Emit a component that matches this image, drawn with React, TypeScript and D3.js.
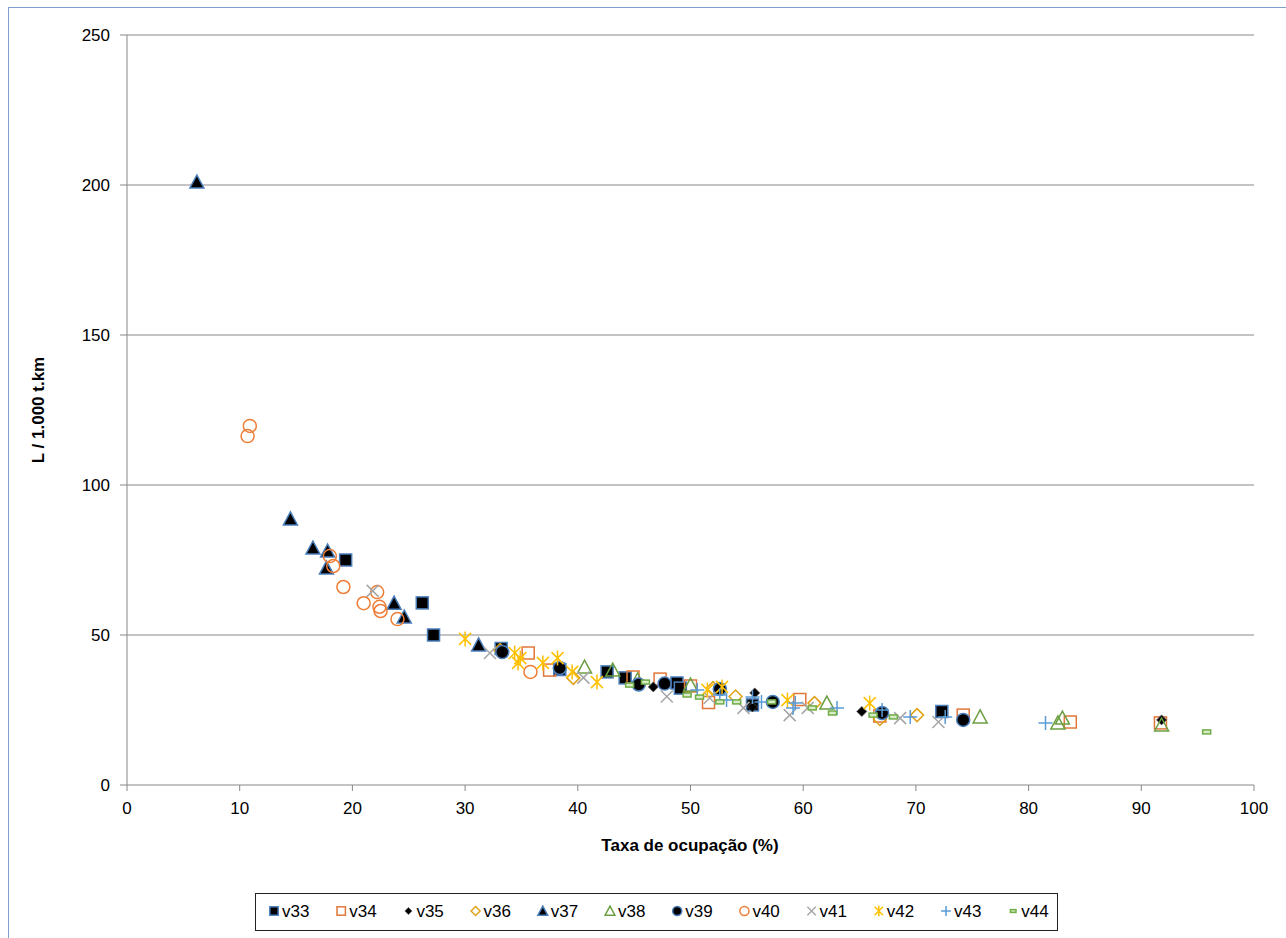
import * as d3 from "d3";

const xTicks = [0, 10, 20, 30, 40, 50, 60, 70, 80, 90, 100];
const yTicks = [0, 50, 100, 150, 200, 250];

const v33 = [[19.4, 75], [26.2, 60.7], [27.2, 50], [33.2, 45.5], [38.4, 38.5], [42.6, 37.7], [44.2, 35.7], [48.8, 34], [49.1, 32.3], [55.5, 26.7], [72.3, 24.5]];
const v34 = [[35.6, 44], [37.5, 38.3], [44.9, 36], [47.3, 35.3], [50, 33], [51.6, 27.5], [59.7, 28.5], [66.8, 23], [74.2, 23.3], [83.7, 21], [91.7, 20.7]];
const v35 = [[33.1, 45], [46.7, 32.7], [55.5, 26], [55.7, 30.7], [57.2, 27.7], [65.2, 24.5], [91.8, 21.7]];
const v36 = [[33.1, 45], [39.6, 35.7], [52, 32.3], [54, 29.5], [61, 27.3], [66.8, 22], [70.1, 23.3]];
const v37 = [[6.2, 201], [14.5, 88.7], [16.5, 79], [17.8, 78], [17.7, 72.3], [23.7, 60.6], [24.6, 56], [31.2, 46.7]];
const v38 = [[40.6, 39.3], [43.1, 38.3], [45.3, 35], [50, 33.3], [62.1, 27.3], [75.7, 22.7], [82.6, 20.7], [83, 22.3], [91.8, 20]];
const v39 = [[33.3, 44.3], [38.4, 39], [45.4, 33.5], [47.7, 33.8], [52.6, 32], [57.3, 27.7], [67, 24], [74.2, 21.7]];
const v40 = [[10.7, 116.3], [10.9, 119.7], [18, 76.3], [18.3, 73], [19.2, 66], [21, 60.6], [22.2, 64.3], [22.4, 59.4], [22.5, 58], [24, 55.3], [35.8, 37.7]];
const v41 = [[21.8, 64.7], [32.2, 44], [40.5, 35.8], [47.9, 29.5], [51.7, 29], [54.7, 25.7], [58.8, 23.3], [60.4, 25.7], [68.6, 22.3], [72, 21]];
const v42 = [[30, 48.7], [34.4, 44], [34.9, 42.3], [34.7, 40.7], [36.9, 40.7], [38.2, 42.3], [39.5, 37.7], [41.7, 34.3], [51.5, 31.7], [52.8, 32.7], [58.6, 28.3], [65.9, 27.3]];
const v43 = [[50.6, 31.7], [52.6, 30], [53.2, 28.3], [55.5, 29.3], [56.3, 27.7], [59.1, 25.7], [59.3, 27.3], [63, 25.7], [67, 25], [69.5, 22.7], [72.6, 22.7], [81.5, 20.7]];
const v44 = [[44.6, 33.3], [46, 34.3], [49.7, 30], [50.8, 29.3], [52.6, 27.7], [54.1, 27.7], [57.2, 27.7], [60.8, 25.7], [62.6, 24], [66.2, 23.3], [68, 22.7], [95.8, 17.7]];

const seriesNames = ["v33", "v34", "v35", "v36", "v37", "v38", "v39", "v40", "v41", "v42", "v43", "v44"];
const seriesData = [v33, v34, v35, v36, v37, v38, v39, v40, v41, v42, v43, v44];

const BLUE_EDGE = "#4a7ebb";
const styles: Record<string, { shape: string; fill: string; stroke: string }> = {
  v33: { shape: "square", fill: "#000", stroke: BLUE_EDGE },
  v34: { shape: "square", fill: "none", stroke: "#e2773a" },
  v35: { shape: "diamond", fill: "#000", stroke: "#555" },
  v36: { shape: "diamond", fill: "none", stroke: "#dfa21a" },
  v37: { shape: "triangle", fill: "#000", stroke: BLUE_EDGE },
  v38: { shape: "triangle", fill: "none", stroke: "#6c9f42" },
  v39: { shape: "circle", fill: "#000", stroke: BLUE_EDGE },
  v40: { shape: "circle", fill: "none", stroke: "#ee7d36" },
  v41: { shape: "x", fill: "none", stroke: "#a6a6a6" },
  v42: { shape: "star", fill: "none", stroke: "#ffc000" },
  v43: { shape: "plus", fill: "none", stroke: "#5b9bd5" },
  v44: { shape: "dash", fill: "#d8ecc8", stroke: "#70ad47" },
};

function Marker({ name, cx, cy, k = 1 }: { name: string; cx: number; cy: number; k?: number }) {
  const s = styles[name];
  const t = `translate(${cx},${cy}) scale(${k})`;
  const sw = 1.5 / k;
  switch (s.shape) {
    case "square":
      return <rect transform={t} x={-6} y={-6} width={12} height={12} fill={s.fill} stroke={s.stroke} strokeWidth={sw} />;
    case "diamond": {
      const r = name === "v35" ? 5 : 6.5;
      return <path transform={t} d={`M0,${-r}L${r},0L0,${r}L${-r},0Z`} fill={s.fill} stroke={s.stroke} strokeWidth={name === "v35" ? 0.8 / k : sw} />;
    }
    case "triangle":
      return <path transform={t} d="M0,-7L7,6L-7,6Z" fill={s.fill} stroke={s.stroke} strokeWidth={sw} />;
    case "circle":
      return <circle transform={t} r={6.5} fill={s.fill} stroke={s.stroke} strokeWidth={sw} />;
    case "x":
      return <path transform={t} d="M-6,-6L6,6M6,-6L-6,6" stroke={s.stroke} strokeWidth={sw} fill="none" />;
    case "star":
      return <path transform={t} d="M-6,-6L6,6M6,-6L-6,6M0,-7.5L0,7.5" stroke={s.stroke} strokeWidth={sw} fill="none" />;
    case "plus":
      return <path transform={t} d="M-7,0L7,0M0,-7L0,7" stroke={s.stroke} strokeWidth={sw} fill="none" />;
    default:
      return <rect transform={t} x={-4} y={-2} width={8} height={4} fill={s.fill} stroke={s.stroke} strokeWidth={sw} />;
  }
}

export default function App() {
  const W = 1286;
  const H = 938;
  const left = 127, right = 1254, top = 35, bottom = 785;

  const x = d3.scaleLinear().domain([0, 100]).range([left, right]);
  const y = d3.scaleLinear().domain([0, 250]).range([bottom, top]);

  const font = "'Liberation Sans', Arial, sans-serif";
  const grid = "#888";

  const legendX0 = 274;
  const legendStep = 67.2;

  return (
    <svg width={W} height={H} style={{ position: "absolute", left: 0, top: 0 }} fontFamily={font}>
      <rect x={0} y={0} width={W} height={H} fill="#fff" />
      <rect x={8.5} y={7.5} width={W + 10} height={H + 10} fill="none" stroke="#7f9fd0" strokeWidth={1} />

      {/* gridlines */}
      {yTicks.filter(t => t > 0).map(t => (
        <line key={t} x1={left} x2={right} y1={y(t)} y2={y(t)} stroke={grid} strokeWidth={1} />
      ))}
      {/* axes */}
      <line x1={left} x2={left} y1={top} y2={bottom} stroke={grid} />
      <line x1={left} x2={right} y1={bottom} y2={bottom} stroke={grid} />
      {yTicks.map(t => (
        <g key={t}>
          <line x1={left - 7} x2={left} y1={y(t)} y2={y(t)} stroke={grid} />
          <text x={left - 17} y={y(t)} dy="0.35em" textAnchor="end" fontSize={17}>{t}</text>
        </g>
      ))}
      {xTicks.map(t => (
        <g key={t}>
          <line x1={x(t)} x2={x(t)} y1={bottom} y2={bottom + 6} stroke={grid} />
          <text x={x(t)} y={bottom + 29} textAnchor="middle" fontSize={17}>{t}</text>
        </g>
      ))}

      <text x={690} y={851} textAnchor="middle" fontSize={17} fontWeight="bold">Taxa de ocupação (%)</text>
      <text transform={`translate(44,410) rotate(-90)`} textAnchor="middle" fontSize={17} fontWeight="bold">L / 1.000 t.km</text>

      {/* points */}
      {seriesNames.map((name, i) => (
        <g key={name}>
          {seriesData[i].map((d, j) => (
            <Marker key={j} name={name} cx={x(d[0])} cy={y(d[1])} />
          ))}
        </g>
      ))}

      {/* legend */}
      <rect x={255.5} y={893.5} width={802} height={37} fill="#fff" stroke="#222" strokeWidth={1} />
      {seriesNames.map((name, i) => {
        const mx = legendX0 + i * legendStep;
        return (
          <g key={name}>
            <Marker name={name} cx={mx} cy={911} k={0.7} />
            <text x={mx + 8} y={911} dy="0.35em" fontSize={17}>{name}</text>
          </g>
        );
      })}
    </svg>
  );
}
